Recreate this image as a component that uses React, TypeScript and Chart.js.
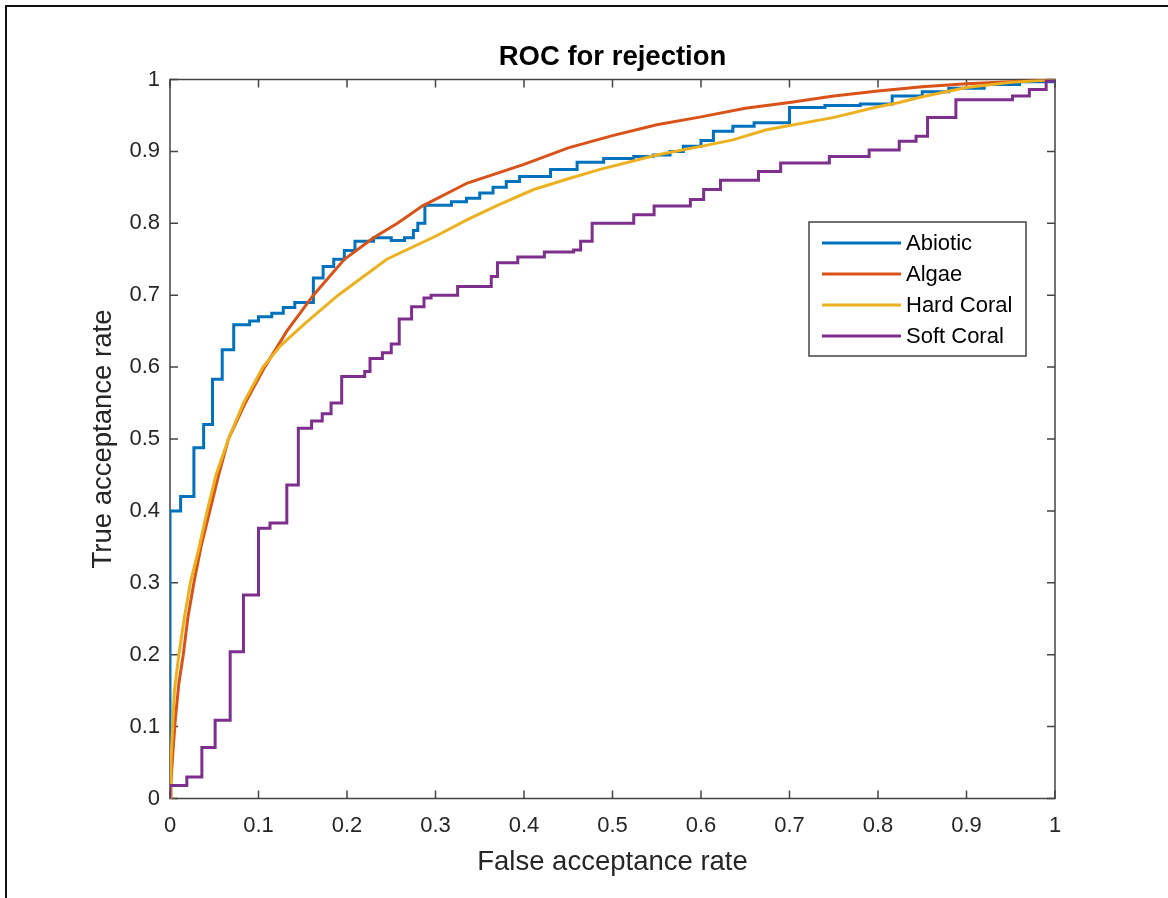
import React, { useEffect, useRef } from "react";
import { Chart, registerables } from "chart.js";

Chart.register(...registerables);

// ---------- data ----------
const seriesNames = ["Abiotic", "Algae", "Hard Coral", "Soft Coral"];
const seriesColors = ["#0072BD", "#D95319", "#EDB120", "#7E2F8E"];

// Abiotic (stepped ROC)
const abioticFAR = [0, 0, 0.012, 0.027, 0.038, 0.048, 0.059, 0.072, 0.09, 0.1, 0.115, 0.128, 0.141, 0.162, 0.173, 0.185, 0.197, 0.209, 0.23, 0.25, 0.265, 0.275, 0.28, 0.288, 0.318, 0.335, 0.35, 0.365, 0.38, 0.395, 0.43, 0.46, 0.49, 0.524, 0.546, 0.565, 0.58, 0.6, 0.614, 0.636, 0.66, 0.7, 0.74, 0.78, 0.816, 0.85, 0.88, 0.92, 0.96, 1];
const abioticTAR = [0, 0.40, 0.42, 0.488, 0.52, 0.583, 0.624, 0.659, 0.664, 0.67, 0.675, 0.683, 0.69, 0.724, 0.74, 0.75, 0.762, 0.775, 0.78, 0.776, 0.78, 0.79, 0.80, 0.825, 0.83, 0.835, 0.842, 0.85, 0.858, 0.865, 0.875, 0.885, 0.89, 0.893, 0.895, 0.9, 0.907, 0.915, 0.928, 0.935, 0.94, 0.961, 0.964, 0.966, 0.977, 0.983, 0.988, 0.993, 0.997, 1];

// Algae (smooth ROC)
const algaeFAR = [0, 0.001, 0.003, 0.006, 0.01, 0.015, 0.02, 0.027, 0.035, 0.045, 0.055, 0.066, 0.085, 0.107, 0.132, 0.162, 0.197, 0.23, 0.257, 0.285, 0.336, 0.4, 0.45, 0.5, 0.55, 0.6, 0.65, 0.7, 0.75, 0.8, 0.85, 0.9, 0.95, 1];
const algaeTAR = [0, 0.02, 0.06, 0.11, 0.16, 0.2, 0.25, 0.3, 0.35, 0.4, 0.45, 0.5, 0.55, 0.6, 0.65, 0.7, 0.75, 0.78, 0.8, 0.824, 0.856, 0.882, 0.905, 0.922, 0.937, 0.948, 0.96, 0.968, 0.977, 0.984, 0.99, 0.994, 0.997, 1];

// Hard Coral (smooth ROC)
const hardCoralFAR = [0, 0.001, 0.003, 0.005, 0.01, 0.016, 0.023, 0.033, 0.042, 0.052, 0.066, 0.083, 0.105, 0.125, 0.152, 0.19, 0.245, 0.3, 0.336, 0.37, 0.411, 0.45, 0.486, 0.55, 0.6, 0.636, 0.674, 0.749, 0.8, 0.824, 0.85, 0.9, 0.95, 1];
const hardCoralTAR = [0, 0.05, 0.1, 0.15, 0.2, 0.25, 0.3, 0.35, 0.4, 0.45, 0.5, 0.55, 0.6, 0.63, 0.66, 0.7, 0.75, 0.782, 0.805, 0.825, 0.847, 0.862, 0.875, 0.895, 0.907, 0.916, 0.93, 0.947, 0.962, 0.968, 0.976, 0.989, 0.996, 1];

// Soft Coral (stepped ROC)
const softCoralFAR = [0, 0, 0.019, 0.036, 0.051, 0.068, 0.083, 0.1, 0.113, 0.132, 0.145, 0.16, 0.172, 0.182, 0.194, 0.22, 0.226, 0.24, 0.25, 0.259, 0.273, 0.287, 0.295, 0.325, 0.363, 0.37, 0.393, 0.423, 0.456, 0.464, 0.477, 0.524, 0.547, 0.588, 0.603, 0.622, 0.665, 0.69, 0.745, 0.79, 0.824, 0.843, 0.856, 0.888, 0.952, 0.971, 0.99, 1];
const softCoralTAR = [0, 0.018, 0.03, 0.071, 0.109, 0.204, 0.283, 0.376, 0.383, 0.436, 0.515, 0.525, 0.535, 0.55, 0.587, 0.594, 0.612, 0.62, 0.632, 0.667, 0.684, 0.696, 0.70, 0.712, 0.726, 0.745, 0.753, 0.76, 0.763, 0.775, 0.80, 0.812, 0.824, 0.833, 0.847, 0.86, 0.872, 0.884, 0.893, 0.902, 0.914, 0.921, 0.947, 0.972, 0.977, 0.986, 0.998, 1];

const tickValues = [0, 0.1, 0.2, 0.3, 0.4, 0.5, 0.6, 0.7, 0.8, 0.9, 1];
const tickLabels = ["0", "0.1", "0.2", "0.3", "0.4", "0.5", "0.6", "0.7", "0.8", "0.9", "1"];

const chartTitle = "ROC for rejection";
const xTitle = "False acceptance rate";
const yTitle = "True acceptance rate";

// ---------- styling ----------
const FONT = "'Liberation Sans', Arial, Helvetica, sans-serif";
const AXIS_COLOR = "#444444";
const TEXT_COLOR = "#262626";

const toPoints = (xs: number[], ys: number[]) => xs.map((x, i) => ({ x, y: ys[i] }));

const framePlugin = {
  id: "matlabFrame",
  beforeDatasetsDraw(chart: any) {
    const { ctx, chartArea, scales } = chart;
    const { left, right, top, bottom } = chartArea;
    ctx.save();
    ctx.strokeStyle = AXIS_COLOR;
    ctx.lineWidth = 1.5;
    ctx.strokeRect(left, top, right - left, bottom - top);
    const tl = 8;
    ctx.beginPath();
    tickValues.forEach((v) => {
      const px = scales.x.getPixelForValue(v);
      ctx.moveTo(px, bottom);
      ctx.lineTo(px, bottom - tl);
      ctx.moveTo(px, top);
      ctx.lineTo(px, top + tl);
      const py = scales.y.getPixelForValue(v);
      ctx.moveTo(left, py);
      ctx.lineTo(left + tl, py);
      ctx.moveTo(right, py);
      ctx.lineTo(right - tl, py);
    });
    ctx.stroke();
    ctx.restore();
  },
  afterDatasetsDraw(chart: any) {
    const { ctx } = chart;
    const boxX = 809, boxY = 222, boxW = 217, boxH = 134;
    ctx.save();
    ctx.fillStyle = "#ffffff";
    ctx.fillRect(boxX, boxY, boxW, boxH);
    ctx.strokeStyle = AXIS_COLOR;
    ctx.lineWidth = 1.5;
    ctx.strokeRect(boxX, boxY, boxW, boxH);
    ctx.font = `22px ${FONT}`;
    ctx.textBaseline = "middle";
    ctx.textAlign = "left";
    chart.data.datasets.forEach((ds: any, i: number) => {
      const y = boxY + 21 + i * 31;
      ctx.strokeStyle = ds.borderColor;
      ctx.lineWidth = 3;
      ctx.beginPath();
      ctx.moveTo(822, y);
      ctx.lineTo(901, y);
      ctx.stroke();
      ctx.fillStyle = "#000000";
      ctx.fillText(ds.label, 906, y + 1);
    });
    ctx.restore();
  },
};

const PAD_LEFT = 86.5;
const PAD_BOTTOM = 19.5;
const PLOT_LEFT = 170;
const PLOT_BOTTOM = 798.5;
const CANVAS_W = 1168;
const CANVAS_H = 898;

export default function App() {
  const canvasRef = useRef<HTMLCanvasElement | null>(null);

  useEffect(() => {
    if (!canvasRef.current) return;
    const series = [
      [abioticFAR, abioticTAR, true],
      [algaeFAR, algaeTAR, false],
      [hardCoralFAR, hardCoralTAR, false],
      [softCoralFAR, softCoralTAR, true],
    ] as const;
    const datasets = series.map(([xs, ys, stepped], i) => ({
      label: seriesNames[i],
      data: toPoints(xs as number[], ys as number[]),
      borderColor: seriesColors[i],
      backgroundColor: seriesColors[i],
      borderWidth: 3,
      pointRadius: 0,
      fill: false,
      tension: 0,
      stepped: stepped ? "before" : false,
      order: 4 - i,
    }));

    const chart = new Chart(canvasRef.current, {
      type: "line",
      data: { datasets: datasets as any },
      plugins: [framePlugin as any],
      options: {
        responsive: false,
        maintainAspectRatio: false,
        animation: false,
        layout: { padding: { left: PAD_LEFT, right: CANVAS_W - 1055, top: 0, bottom: PAD_BOTTOM } },
        plugins: {
          legend: { display: false },
          tooltip: { enabled: false },
          title: {
            display: true,
            text: chartTitle,
            fullSize: false,
            color: "#000000",
            font: { family: FONT, size: 27.5, weight: "bold" },
            padding: { top: 40.5, bottom: 6 },
          },
        },
        scales: {
          x: {
            type: "linear",
            min: 0,
            max: 1,
            afterBuildTicks: (s: any) => {
              s.ticks = tickValues.map((v) => ({ value: v }));
            },
            afterFit: (s: any) => {
              s.height = CANVAS_H - PAD_BOTTOM - PLOT_BOTTOM;
            },
            ticks: {
              callback: (_v: any, i: number) => tickLabels[i],
              padding: 14,
              color: TEXT_COLOR,
              font: { family: FONT, size: 22 },
              maxRotation: 0,
              autoSkip: false,
            },
            grid: { display: false, drawTicks: false },
            border: { display: false },
            title: {
              display: true,
              text: xTitle,
              color: TEXT_COLOR,
              font: { family: FONT, size: 27.5 },
              padding: 0,
            },
          },
          y: {
            type: "linear",
            min: 0,
            max: 1,
            afterBuildTicks: (s: any) => {
              s.ticks = tickValues.map((v) => ({ value: v }));
            },
            afterFit: (s: any) => {
              s.width = PLOT_LEFT - PAD_LEFT;
            },
            ticks: {
              callback: (_v: any, i: number) => tickLabels[i],
              padding: 10,
              color: TEXT_COLOR,
              font: { family: FONT, size: 22 },
              autoSkip: false,
            },
            grid: { display: false, drawTicks: false },
            border: { display: false },
            title: {
              display: true,
              text: yTitle,
              color: TEXT_COLOR,
              font: { family: FONT, size: 27.5 },
              padding: 0,
            },
          },
        },
      } as any,
    });
    return () => chart.destroy();
  }, []);

  return (
    <div
      style={{
        position: "fixed",
        left: 0,
        top: 0,
        width: CANVAS_W,
        height: CANVAS_H,
        background: "#ffffff",
        overflow: "hidden",
      }}
    >
      <canvas
        ref={canvasRef}
        width={CANVAS_W}
        height={CANVAS_H}
        style={{ position: "absolute", left: 0, top: 0, width: CANVAS_W, height: CANVAS_H }}
      />
      <div
        style={{
          position: "absolute",
          left: 5,
          top: 5,
          width: CANVAS_W + 20,
          height: CANVAS_H + 20,
          borderTop: "2px solid #111111",
          borderLeft: "2px solid #111111",
          pointerEvents: "none",
        }}
      />
    </div>
  );
}
